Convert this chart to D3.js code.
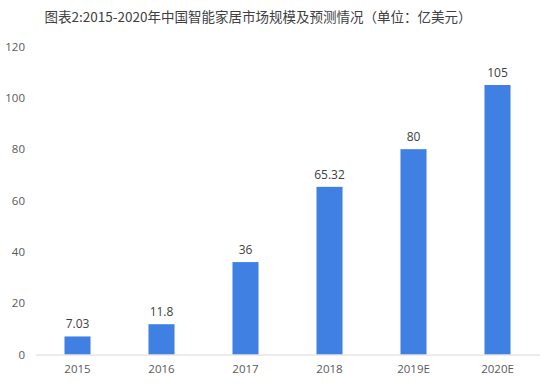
<!DOCTYPE html>
<html>
<head>
<meta charset="utf-8">
<script src="https://cdn.jsdelivr.net/npm/d3@7"></script>
<style>
  body { margin: 0; background: #fff; }
  text { font-family: "Noto Sans CJK SC", "Open Sans", sans-serif; }
</style>
</head>
<body>
<div id="chart"></div>
<script>
// chart data
const years = ["2015", "2016", "2017", "2018", "2019E", "2020E"];
const values = [7.03, 11.8, 36, 65.32, 80, 105];
const valueLabels = ["7.03", "11.8", "36", "65.32", "80", "105"];
const yTicks = [0, 20, 40, 60, 80, 100, 120];
const title = "图表2:2015-2020年中国智能家居市场规模及预测情况（单位：亿美元）";

const wid = 550, hei = 385;

const svg = d3.select("#chart").append("svg")
    .attr("width", wid)
    .attr("height", hei);

// y scale: 0 sits on the baseline, 120 near the top
const yScale = d3.scaleLinear().domain([0, 120]).range([354.5, 46.5]);

// x band scale, bars centred in each slot
const xScale = d3.scaleBand()
    .domain(years)
    .range([35.5, 539.5])
    .paddingInner(0.69)
    .paddingOuter(0.345);

// title
svg.append("text")
    .attr("x", 258)
    .attr("y", 22)
    .attr("text-anchor", "middle")
    .style("font-size", "13.5px")
    .style("fill", "#404040")
    .text(title);

// y axis labels only (no line, no ticks)
const yAxis = d3.axisLeft(yScale).tickValues(yTicks).tickSize(0).tickPadding(0);
const gy = svg.append("g")
    .attr("transform", "translate(25,0)")
    .call(yAxis);
gy.select(".domain").remove();
gy.selectAll("text")
    .style("font-size", "11.5px")
    .style("fill", "#595959")
    .style("font-family", "'Open Sans', sans-serif");

// bars
svg.selectAll("rect.bar")
    .data(values)
    .enter()
    .append("rect")
    .attr("class", "bar")
    .attr("x", (d, i) => xScale(years[i]))
    .attr("y", d => yScale(d))
    .attr("width", xScale.bandwidth())
    .attr("height", d => yScale(0) - yScale(d))
    .attr("fill", "#3f80e2");

// value labels
svg.selectAll("text.val")
    .data(values)
    .enter()
    .append("text")
    .attr("class", "val")
    .attr("x", (d, i) => xScale(years[i]) + xScale.bandwidth() / 2)
    .attr("y", d => yScale(d) - 8)
    .attr("text-anchor", "middle")
    .style("font-size", "12px")
    .style("fill", "#404040")
    .style("font-family", "'Open Sans', sans-serif")
    .text((d, i) => valueLabels[i]);

// x axis
const xAxis = d3.axisBottom(xScale).tickSize(0).tickPadding(10);
const gx = svg.append("g")
    .attr("transform", `translate(0,${yScale(0)})`)
    .call(xAxis);
gx.select(".domain").attr("stroke", "#d9d9d9");
gx.selectAll("text")
    .style("font-size", "11.5px")
    .style("fill", "#595959")
    .style("font-family", "'Open Sans', sans-serif");
</script>
</body>
</html>
